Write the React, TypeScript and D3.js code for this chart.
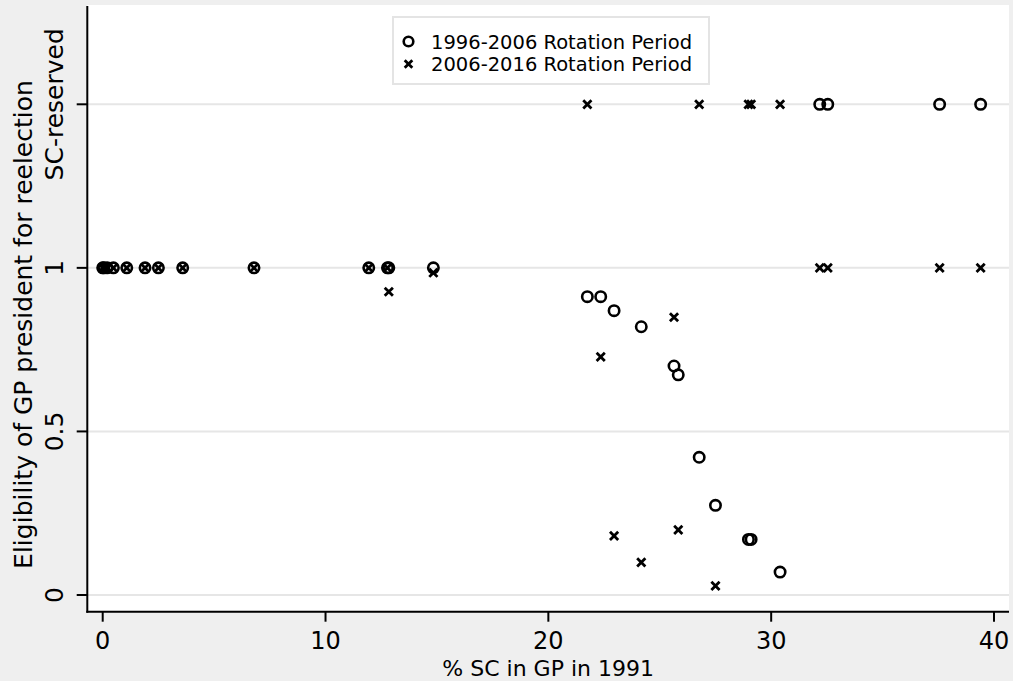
import React from "react";
import * as d3 from "d3";

// % SC population in GP (1991) for each village
const pctSC = [0, 0.05, 0.2, 0.48, 1.08, 1.9, 2.5, 3.59, 6.79, 11.94, 12.78, 12.84, 14.84,
  21.75, 22.35, 22.95, 24.17, 25.64, 25.83, 26.77, 27.5, 28.98, 29.1, 30.4,
  32.18, 32.54, 37.56, 39.4];
// Eligibility, 1996-2006 rotation period (1.5 = SC-reserved)
const elig9606 = [1, 1, 1, 1, 1, 1, 1, 1, 1, 1, 1, 1, 1,
  0.912, 0.912, 0.869, 0.82, 0.7, 0.673, 0.421, 0.274, 0.17, 0.17, 0.07,
  1.5, 1.5, 1.5, 1.5];
// Eligibility, 2006-2016 rotation period (1.5 = SC-reserved)
const elig0616 = [1, 1, 1, 1, 1, 1, 1, 1, 1, 1, 1, 0.927, 0.985,
  1.5, 0.728, 0.181, 0.1, 0.849, 0.199, 1.5, 0.028, 1.5, 1.5, 1.5,
  1, 1, 1, 1];

const xTicks = [0, 10, 20, 30, 40];
const yTicks = [0, 0.5, 1, 1.5];
const yTickLabels = ["0", "0.5", "1", "SC-reserved"];
const seriesLabels = ["1996-2006 Rotation Period", "2006-2016 Rotation Period"];

const W = 1013, H = 681;
const FONT = "'DejaVu Sans', sans-serif";

function Cross({ cx, cy, s, w }: { cx: number; cy: number; s: number; w: number }) {
  return (
    <path
      d={`M${cx - s},${cy - s}L${cx + s},${cy + s}M${cx - s},${cy + s}L${cx + s},${cy - s}`}
      stroke="#000"
      strokeWidth={w}
      fill="none"
    />
  );
}

export default function App() {
  const plotL = 87.3, plotR = 1009, plotT = 5, plotB = 611.7;
  const x = d3.scaleLinear().domain([0, 40]).range([102.7, 994]);
  const y = d3.scaleLinear().domain([0, 1.5]).range([595, 104.3]);

  return (
    <svg
      width={W}
      height={H}
      style={{ position: "absolute", left: 0, top: 0, display: "block" }}
      fontFamily={FONT}
    >
      <rect x={0} y={0} width={W} height={H} fill="#efefef" />
      <rect x={plotL} y={plotT} width={plotR - plotL} height={plotB - plotT} fill="#fff" />

      {/* gridlines */}
      {yTicks.map((t) => (
        <line key={"g" + t} x1={plotL} x2={plotR} y1={y(t)} y2={y(t)} stroke="#e6e6e6" strokeWidth={2} />
      ))}

      {/* legend */}
      <rect x={393} y={17} width={316} height={67} fill="#fff" stroke="#e4e4e4" strokeWidth={2} />
      <circle cx={408.5} cy={41.5} r={4.8} fill="none" stroke="#000" strokeWidth={2.6} />
      <Cross cx={408.5} cy={64} s={3.8} w={2.8} />
      <text x={431} y={48.5} fontSize={19.5} fill="#000">{seriesLabels[0]}</text>
      <text x={431} y={71} fontSize={19.5} fill="#000">{seriesLabels[1]}</text>

      {/* markers: 1996-2006 circles */}
      {pctSC.map((v, i) => (
        <circle key={"c" + i} cx={x(v)} cy={y(elig9606[i])} r={5.2} fill="none" stroke="#000" strokeWidth={2.6} />
      ))}
      {/* markers: 2006-2016 crosses */}
      {pctSC.map((v, i) => (
        <Cross key={"x" + i} cx={x(v)} cy={y(elig0616[i])} s={4.1} w={2.8} />
      ))}

      {/* axes */}
      <line x1={plotL} x2={plotL} y1={6} y2={plotB + 1} stroke="#000" strokeWidth={2} />
      <line x1={plotL - 1} x2={plotR} y1={plotB} y2={plotB} stroke="#000" strokeWidth={2} />

      {yTicks.map((t, i) => (
        <g key={"yt" + t}>
          <line x1={76.7} x2={plotL} y1={y(t)} y2={y(t)} stroke="#000" strokeWidth={2} />
          <text
            transform={`translate(63.3,${y(t)}) rotate(-90)`}
            textAnchor="middle"
            fontSize={25}
            fill="#000"
          >
            {yTickLabels[i]}
          </text>
        </g>
      ))}
      {xTicks.map((t) => (
        <g key={"xt" + t}>
          <line x1={x(t)} x2={x(t)} y1={plotB} y2={621.7} stroke="#000" strokeWidth={2} />
          <text x={x(t)} y={649} textAnchor="middle" fontSize={24} fill="#000">
            {t}
          </text>
        </g>
      ))}

      {/* axis titles */}
      <text
        transform={`translate(31.7,324.5) rotate(-90)`}
        textAnchor="middle"
        fontSize={25}
        fill="#000"
      >
        Eligibility of GP president for reelection
      </text>
      <text x={(plotL + plotR) / 2} y={675.5} textAnchor="middle" fontSize={22} fill="#000">
        % SC in GP in 1991
      </text>
    </svg>
  );
}
